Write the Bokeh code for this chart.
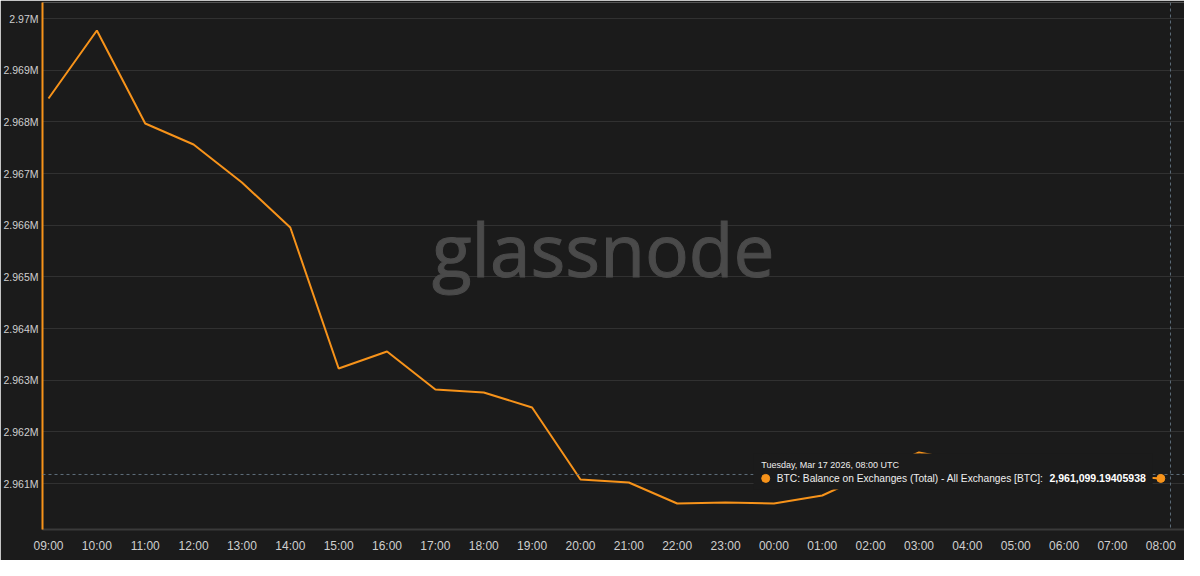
from bokeh.plotting import figure
from bokeh.models import FixedTicker, Span, BoxAnnotation, Label
from bokeh.embed import file_html
from bokeh.resources import INLINE

# ---- data ----
hours = ["09:00", "10:00", "11:00", "12:00", "13:00", "14:00", "15:00", "16:00",
         "17:00", "18:00", "19:00", "20:00", "21:00", "22:00", "23:00", "00:00",
         "01:00", "02:00", "03:00", "04:00", "05:00", "06:00", "07:00", "08:00"]
balance = [2968452, 2969768, 2967968, 2967561, 2966826, 2965955, 2963226, 2963555,
           2962820, 2962762, 2962471, 2961078, 2961020, 2960613, 2960633, 2960613,
           2960768, 2961200, 2961600, 2961420, 2961320, 2961230, 2961160, 2961099.19405938]
ytick_values = [2961000, 2962000, 2963000, 2964000, 2965000, 2966000, 2967000, 2968000, 2969000, 2970000]
ytick_labels = ["2.961M", "2.962M", "2.963M", "2.964M", "2.965M", "2.966M", "2.967M", "2.968M", "2.969M", "2.97M"]
series_name = "BTC: Balance on Exchanges (Total) - All Exchanges [BTC]: "
tooltip_date = "Tuesday, Mar 17 2026, 08:00 UTC"

BG = "#1b1b1b"
ORANGE = "#f7931a"
GRID = "#313131"
TXT = "#cfcfcf"
WM = "#4a4a4a"

xs = list(range(len(hours)))

p = figure(width=1184, height=560, output_backend="svg", toolbar_location=None,
           x_range=(-0.124, 23.49), y_range=(2960110, 2970310),
           background_fill_color=BG, border_fill_color=BG, outline_line_color=None,
           min_border_left=39, min_border_right=0, min_border_top=2, min_border_bottom=31)

# axes
p.xaxis.ticker = FixedTicker(ticks=xs)
p.xaxis.major_label_overrides = {i: h for i, h in zip(xs, hours)}
p.xaxis.axis_line_color = "#3a3a3a"
p.xaxis.axis_line_width = 2
p.xaxis.major_tick_line_color = None
p.xaxis.major_tick_out = 0
p.xaxis.major_tick_in = 0
p.xaxis.minor_tick_line_color = None
p.xaxis.major_label_text_color = TXT
p.xaxis.major_label_text_font_size = "12px"
p.xaxis.major_label_text_font = "Liberation Sans"
p.xaxis.major_label_standoff = 9

p.yaxis.ticker = FixedTicker(ticks=ytick_values)
p.yaxis.major_label_overrides = {v: l for v, l in zip(ytick_values, ytick_labels)}
p.yaxis.axis_line_color = ORANGE
p.yaxis.axis_line_width = 2
p.yaxis.major_tick_line_color = None
p.yaxis.major_tick_out = 0
p.yaxis.major_tick_in = 0
p.yaxis.minor_tick_line_color = None
p.yaxis.major_label_text_color = TXT
p.yaxis.major_label_text_font_size = "10.5px"
p.yaxis.major_label_text_font = "Liberation Sans"
p.yaxis.major_label_standoff = 4

p.xgrid.grid_line_color = None
p.ygrid.grid_line_color = GRID
p.ygrid.grid_line_width = 1

# watermark
wm = Label(x=11.47, y=2965549, text="glassnode", text_align="center", text_baseline="alphabetic",
           text_font_size="73px", text_color=WM, text_font="Open Sans",
           text_outline_color=WM, level="underlay")
p.add_layout(wm)

# series
p.line(xs, balance, line_color=ORANGE, line_width=2)

# crosshair
p.add_layout(Span(location=2961175, dimension="width", line_color="#5f6f7c", line_dash="3 3", line_width=1))
p.add_layout(Span(location=23.2, dimension="height", line_color="#5f6f7c", line_dash="3 3", line_width=1))

# tooltip
p.add_layout(BoxAnnotation(left=14.58, right=22.83, top=2961581, bottom=2960884,
                           fill_color=BG, fill_alpha=1, line_color=None))
p.scatter([xs[-1]], [balance[-1]], size=8, color=ORANGE, level="overlay")
p.scatter([14.83], [balance[-1]], size=8, color=ORANGE, level="overlay")
p.add_layout(Label(x=14.74, y=2961368, text=tooltip_date, text_baseline="middle",
                   text_font_size="9px", text_color="#eeeeee", text_font="Liberation Sans"))
p.add_layout(Label(x=15.06, y=balance[-1], text=series_name, text_baseline="middle",
                   text_font_size="10.2px", text_color="#eeeeee", text_font="Liberation Sans"))
p.add_layout(Label(x=22.69, y=balance[-1], text=f"{balance[-1]:,.8f}", text_baseline="middle",
                   text_align="right", text_font_size="10.5px", text_font_style="bold",
                   text_color="#ffffff", text_font="Liberation Sans"))

open("out.html", "w").write(file_html(p, INLINE))
